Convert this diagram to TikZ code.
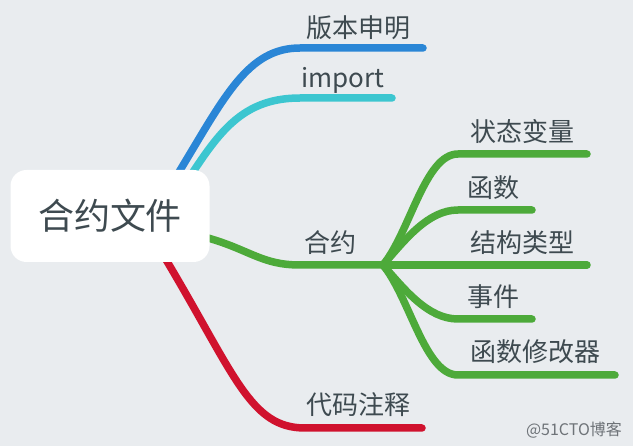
\documentclass[tikz,border=0pt]{standalone}
\usepackage{fontspec}
\setmainfont{Noto Sans CJK SC}
\definecolor{bg}{HTML}{E9ECEF}
\definecolor{txt}{HTML}{3E4A50}
\definecolor{cblue}{HTML}{2A86D6}
\definecolor{ccyan}{HTML}{3CC6D0}
\definecolor{cgreen}{HTML}{4DAA3A}
\definecolor{cred}{HTML}{D0122E}
\definecolor{wm}{HTML}{6E7378}
\begin{document}
\begin{tikzpicture}[x=1pt,y=-1pt,
  branch/.style={line width=7.5pt,line cap=round},
  lbl/.style={text=txt,font=\fontsize{26}{28}\selectfont,inner sep=0pt},
  root/.style={fill=white,rounded corners=16pt,minimum width=199pt,minimum height=92pt,inner sep=0pt,text=txt,font=\fontsize{36}{40}\selectfont}]
\fill[bg] (0,0) rectangle (633,446);
\useasboundingbox (0,0) rectangle (633,446);
% coordinates
\coordinate (bS) at (179,172);
\coordinate (bE) at (423,48);
\coordinate (cS) at (193,172);
\coordinate (cE) at (392,98);
\coordinate (gS) at (208,238);
\coordinate (hub) at (383,265);
\coordinate (rS) at (165,258);
\coordinate (rE) at (422,428);
\coordinate (s1) at (587,154);
\coordinate (s2) at (532,210);
\coordinate (s3) at (587,265);
\coordinate (s4) at (532,319);
\coordinate (s5) at (615,375);
% branches (drawn under root)
\draw[branch,cblue] (bS) .. controls (225,96) and (248,48) .. (300,48) -- (bE);
\draw[branch,ccyan] (cS) .. controls (222,128) and (246,98) .. (300,98) -- (cE);
\draw[branch,cgreen] (gS) .. controls (250,250) and (262,265) .. (300,265) -- (hub);
\draw[branch,cred] (rS) .. controls (235,375) and (250,428) .. (305,428) -- (rE);
\draw[branch,cgreen] (hub) .. controls (410,232) and (425,154) .. (458,154) -- (s1);
\draw[branch,cgreen] (hub) .. controls (405,240) and (428,210) .. (458,210) -- (s2);
\draw[branch,cgreen] (hub) -- (s3);
\draw[branch,cgreen] (hub) .. controls (405,290) and (428,319) .. (458,319) -- (s4);
\draw[branch,cgreen] (hub) .. controls (410,298) and (425,375) .. (458,375) -- (s5);
% root
\node[root] (root) at (110,216) {合约文件};
% labels
\node[lbl] (l1) at (358,28) {版本申明};
\node[lbl] (l2) at (343,80) {import};
\node[lbl] (l3) at (330,243) {合约};
\node[lbl] (l4) at (358,405) {代码注释};
\node[lbl] (m1) at (522,132) {状态变量};
\node[lbl] (m2) at (493,188) {函数};
\node[lbl] (m3) at (522,243) {结构类型};
\node[lbl] (m4) at (493,297) {事件};
\node[lbl] (m5) at (535,352) {函数修改器};
\node[text=wm,font=\fontsize{16}{18}\selectfont,inner sep=0pt] (wmk) at (574,430) {@51CTO博客};
\end{tikzpicture}
\end{document}
